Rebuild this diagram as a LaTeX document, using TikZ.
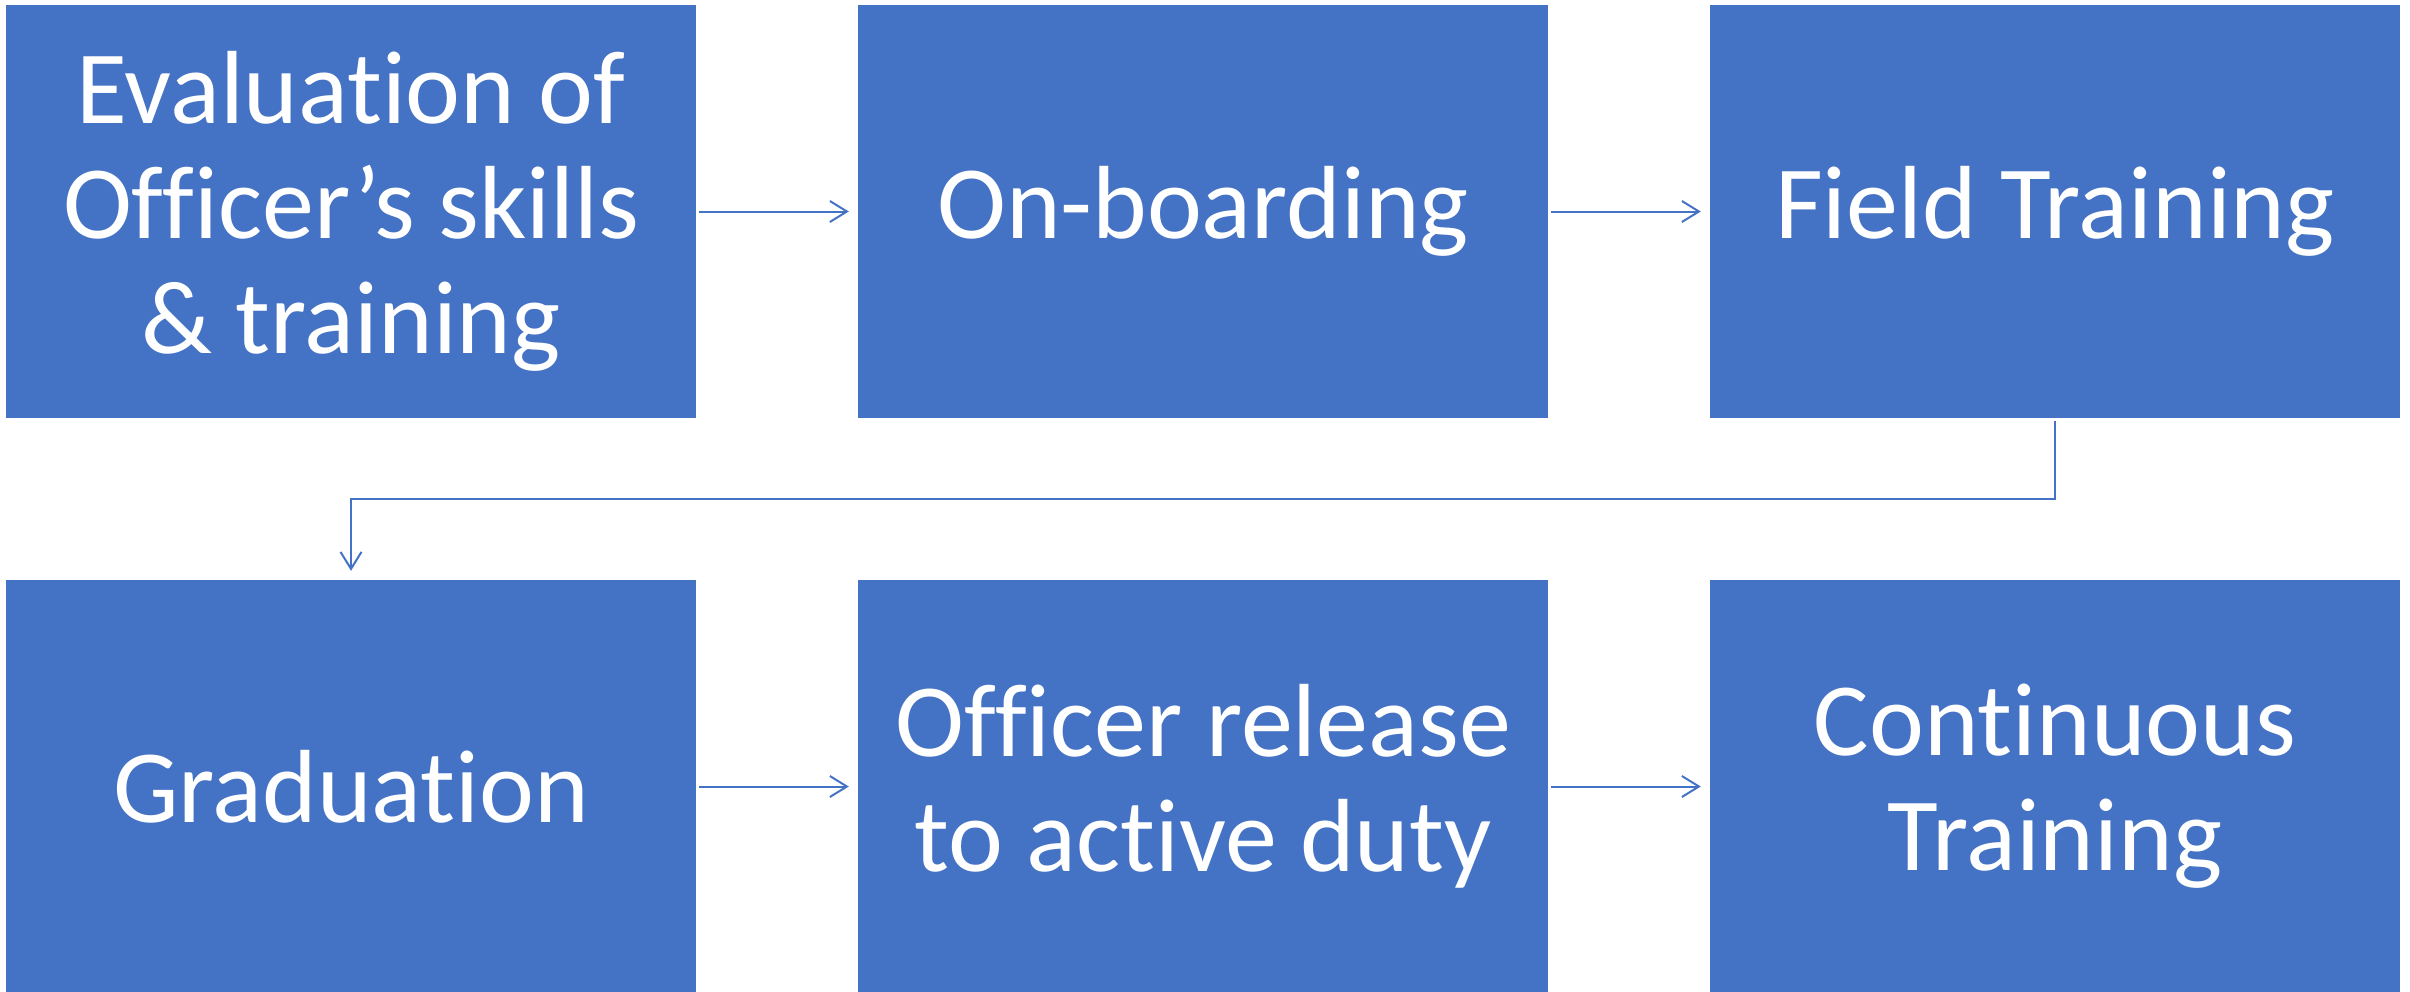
\documentclass[tikz,border=0pt]{standalone}
\usepackage{fontspec}
\setmainfont{Carlito}[Ligatures={NoCommon}]
\usetikzlibrary{arrows.meta}
\definecolor{boxblue}{HTML}{4472C4}
\begin{document}
\begin{tikzpicture}[x=1pt,y=-1pt,
  stepbox/.style={fill=boxblue,draw=none,text=white,minimum width=690pt,minimum height=413pt,
    align=center,inner sep=0pt,font=\fontsize{104}{115}\selectfont},
  flow/.style={draw=boxblue,line width=2pt,-{Straight Barb[length=17pt,width=21pt,line width=2pt]},shorten >=9pt,shorten <=3pt}]
\useasboundingbox (0,0) rectangle (2410,991);
\node[stepbox] (b1) at (351,211.5) {Evaluation of\\Officer’s skills\\\& training};
\node[stepbox] (b2) at (1203,211.5) {On-boarding};
\node[stepbox] (b3) at (2055,211.5) {Field Training};
\node[stepbox] (b4) at (351,786.5) {Graduation};
\node[stepbox] (b5) at (1203,786.5) {Officer release\\to active duty};
\node[stepbox] (b6) at (2055,786.5) {Continuous\\Training};
\coordinate (m1) at (2055,499);
\coordinate (m2) at (351,499);
\draw[flow] (b1) -- (b2);
\draw[flow] (b2) -- (b3);
\draw[flow] (b3.south) -- (m1) -- (m2) -- (b4.north);
\draw[flow] (b4) -- (b5);
\draw[flow] (b5) -- (b6);
\end{tikzpicture}
\end{document}
